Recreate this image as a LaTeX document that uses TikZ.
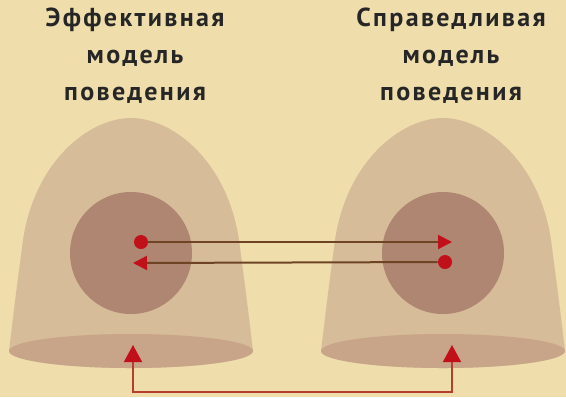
\documentclass[tikz,border=0pt]{standalone}
\usepackage{fontspec}
\setmainfont{PT Sans}
\usetikzlibrary{arrows.meta,positioning}
\definecolor{parchment}{HTML}{EFDDAC}
\definecolor{bell}{HTML}{D6BC98}
\definecolor{core}{HTML}{AF8672}
\definecolor{rim}{HTML}{C8A488}
\definecolor{dotred}{HTML}{C2101A}
\definecolor{linkbrown}{HTML}{6E4424}
\definecolor{backred}{HTML}{B2402C}

\begin{document}
\begin{tikzpicture}[x=0.5pt,y=-0.5pt,
  title/.style={font=\bfseries\fontsize{13}{18.5}\selectfont\addfontfeature{LetterSpace=9},
     text=black!85, align=center, anchor=north, inner sep=0pt},
  reddot/.style={circle, fill=dotred, minimum size=7pt, inner sep=0pt},
  arrowline/.style={draw=linkbrown, line width=1pt,
     -{Triangle[length=7pt,width=7pt,color=dotred]}},
  feedback/.style={draw=backred, line width=0.8pt,
     {Triangle[length=8.5pt,width=9pt,color=dotred]}-{Triangle[length=8.5pt,width=9pt,color=dotred]}}]
\fill[parchment] (0,0) rectangle (566,397);
\useasboundingbox (0,0) rectangle (566,397);
% the two bells
\foreach \cx in {131,443} {
  \fill[bell] (\cx-122,351) .. controls (\cx-116,300) and (\cx-112,270) .. (\cx-108,240)
     .. controls (\cx-96,160) and (\cx-41,118) .. (\cx,118)
     .. controls (\cx+41,118) and (\cx+96,160) .. (\cx+108,240)
     .. controls (\cx+112,270) and (\cx+116,300) .. (\cx+122,351)
     arc[start angle=0, end angle=180, x radius=122, y radius=17] -- cycle;
  \fill[rim] (\cx,351) ellipse[x radius=122, y radius=17];
  \fill[core] (\cx,253) circle[radius=61];
}
\node[title] (effL)  at (135,8) {Эффективная\\модель\\поведения};
\node[title] (fairR) at (451,8) {Справедливая\\модель\\поведения};
\node[reddot] (srcL) at (141,242) {};
\node[reddot] (srcR) at (445,262) {};
\coordinate (tipR) at (452,242);
\coordinate (tipL) at (133,263);
\draw[arrowline] (srcL) -- (tipR);
\draw[arrowline] (srcR) -- (tipL);
\coordinate (baseL) at (133,345);
\coordinate (baseR) at (452,345);
\draw[feedback] (baseL) -- ++(0,47) -| (baseR);
\end{tikzpicture}
\end{document}
